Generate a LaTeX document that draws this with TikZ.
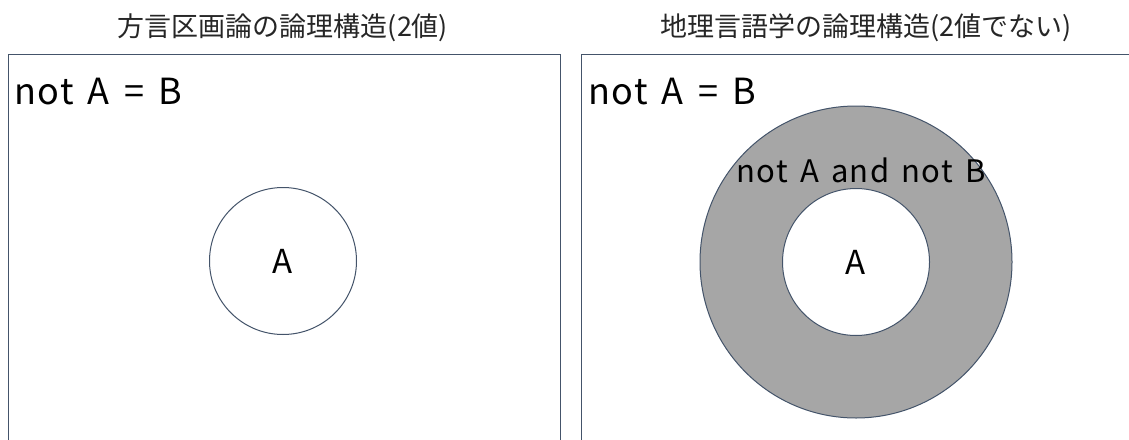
\documentclass[tikz,border=0pt]{standalone}
\usepackage{fontspec}
\setmainfont{Noto Sans CJK JP}
\newfontfamily\latfont[LetterSpace=4,WordSpace=1.5]{Noto Sans CJK JP}
\begin{document}
\begin{tikzpicture}[x=1pt,y=-1pt,
  edge/.style={draw={rgb,255:red,68;green,84;blue,106}, line width=1pt},
  panel/.style={edge, rectangle, inner sep=0pt},
  disc/.style={edge, circle, inner sep=0pt},
  ttl/.style={font=\fontsize{27}{30}\selectfont, text=black!85, inner sep=0pt},
  lbl/.style={font=\latfont\fontsize{36}{40}\selectfont, text=black, inner sep=0pt},
]
\path[use as bounding box] (0,0) rectangle (1129,439);
\clip (0,0) rectangle (1129,439);
\fill[white] (0,0) rectangle (1129,439);
% titles
\node[ttl] (t1) at (283,28) {方言区画論の論理構造(2値)};
\node[ttl] (t2) at (866,28) {地理言語学の論理構造(2値でない)};
% panels
\node[panel, minimum width=551.5pt, minimum height=420pt] (p1) at (284.25,264) {};
\node[panel, minimum width=580pt, minimum height=420pt] (p2) at (871,264) {};
% left
\node[lbl, anchor=west] (l1) at (14,92) {not A = B};
\node[disc, fill=white, minimum size=147pt] (c1) at (283,261) {};
\node[lbl, font=\latfont\fontsize{33}{36}\selectfont] (a1) at (c1) {A};
% right
\node[lbl, anchor=west] (l2) at (588,92) {not A = B};
\node[disc, fill={rgb,255:red,166;green,166;blue,166}, minimum size=312pt] (c2o) at (856,262) {};
\node[disc, fill=white, minimum size=147pt] (c2i) at (856,262) {};
\node[lbl, font=\latfont\fontsize{33}{36}\selectfont] (a2) at (c2i) {A};
\node[lbl, font=\latfont\fontsize{31}{34}\selectfont] (nn) at (861,170) {not A and not B};
\end{tikzpicture}
\end{document}
